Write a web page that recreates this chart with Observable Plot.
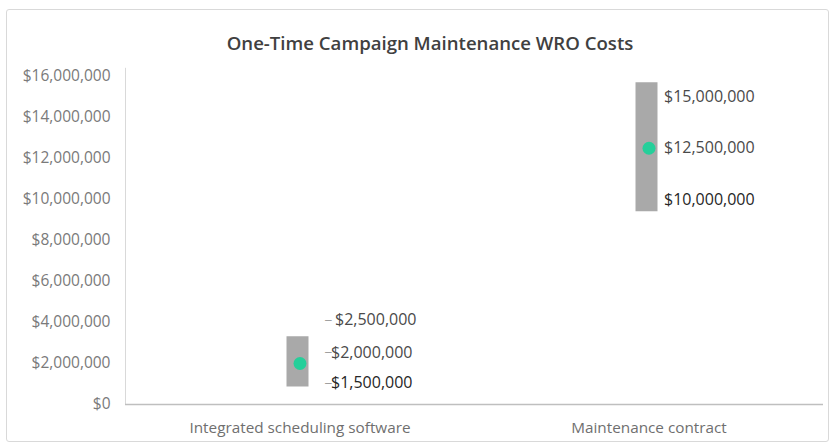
<!DOCTYPE html>
<html>
<head>
<meta charset="utf-8">
<script src="https://cdn.jsdelivr.net/npm/d3@7"></script>
<script src="https://cdn.jsdelivr.net/npm/@observablehq/plot@0.6"></script>
<style>
  html, body { margin: 0; padding: 0; background: #fff; overflow: hidden; }
  #wrap { position: relative; width: 835px; height: 447px; overflow: hidden; font-family: "Open Sans", sans-serif; }
  #border { position: absolute; left: 6px; top: 9px; width: 823px; height: 433px; border: 1px solid #d9d9d9; border-radius: 3px; box-sizing: border-box; }
  #title { position: absolute; left: 0; top: 0; width: 860px; height: 60px; line-height: 85px; text-align: center; font-size: 18.6px; font-weight: 600; color: #404040; white-space: nowrap; }
  #chart { position: absolute; left: 0; top: 60px; }
</style>
</head>
<body>
<div id="wrap">
  <div id="border"></div>
  <div id="title">One-Time Campaign Maintenance WRO Costs</div>
  <div id="chart"></div>
</div>
<script>
// ---- data ----
const categories = ["Integrated scheduling software", "Maintenance contract"];
const rangeLow  = [850000, 9400000];     // bottom of grey bar
const rangeHigh = [3300000, 15700000];   // top of grey bar
const midValue  = [2000000, 12500000];   // green dot
const labelsLow  = [1500000, 10000000];
const labelsMid  = [2000000, 12500000];
const labelsHigh = [2500000, 15000000];
const yTicks = [0, 2000000, 4000000, 6000000, 8000000, 10000000, 12000000, 14000000, 16000000];

// ---- styles ----
const fmt = d3.format("$,.0f");
const barColor = "#a9a9a9";
const dotColor = "#25cf9a";
const labelDx = [31, 15];
// per-label vertical nudges (px) for the crowded left group: [high, mid, low]
const leftNudge = [-33, -11, 9];

const rows = categories.map((c, i) => ({
  cat: c, pos: i + 0.5, low: rangeLow[i], high: rangeHigh[i], mid: midValue[i]
}));

const labelMarks = [];
[labelsHigh, labelsMid, labelsLow].forEach((arr, j) => {
  arr.forEach((v, i) => {
    const dy = i === 0 ? leftNudge[j] : 0;
    const dark = j === 2;
    labelMarks.push(Plot.text([{pos: i + 0.5, v}], {
      x: "pos", y: "v", text: d => fmt(d.v), dx: labelDx[i] + (i === 0 && j === 0 ? 4 : 0), dy,
      textAnchor: "start", fontSize: 16, fill: dark ? "#262626" : "#4a4a4a"
    }));
    if (i === 0) {
      labelMarks.push(Plot.text([{pos: i + 0.5, v}], {
        x: "pos", y: "v", text: () => "‒", dx: 25, dy,
        textAnchor: "start", fontSize: 12, fill: "#9a9a9a"
      }));
    }
  });
});

const plot = Plot.plot({
  width: 835,
  height: 387,
  marginTop: 16,
  marginBottom: 43,
  marginLeft: 125,
  marginRight: 12,
  style: { fontFamily: "Open Sans, sans-serif", background: "transparent", overflow: "visible" },
  x: { domain: [0, 2], axis: null },
  y: { domain: [0, 16000000], axis: null },
  marks: [
    Plot.axisY({ ticks: yTicks, tickFormat: fmt, tickSize: 0, tickPadding: 15, fontSize: 15.5, fill: "#7a7a7a", label: null }),
    Plot.ruleX([0], { y1: 0, y2: 16400000, stroke: "#d9d9d9", strokeWidth: 1 }),
    Plot.ruleY([0], { stroke: "#bfbfbf", strokeWidth: 1.5 }),
    Plot.ruleX(rows, { x: "pos", y1: "low", y2: "high", stroke: barColor, strokeWidth: 22, dx: -2.5 }),
    Plot.dot(rows, { x: "pos", y: "mid", r: 6.5, fill: dotColor }),
    ...labelMarks,
    Plot.text(rows, { x: "pos", y: () => 0, text: "cat", dy: 24, fontSize: 15.3, fill: "#6f6f6f" })
  ]
});
document.getElementById("chart").appendChild(plot);
</script>
</body>
</html>
